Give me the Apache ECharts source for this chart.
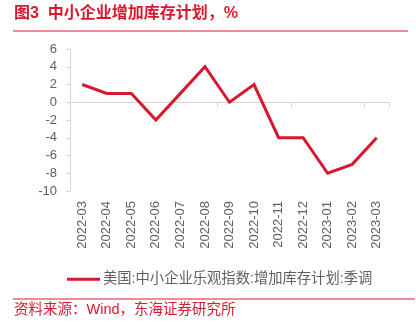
<!DOCTYPE html>
<html>
<head>
<meta charset="utf-8">
<script src="https://cdn.jsdelivr.net/npm/echarts@6/dist/echarts.min.js"></script>
<style>
  html, body { margin: 0; padding: 0; background: #fff; }
  #chart { width: 416px; height: 327px; }
</style>
</head>
<body>
<div id="chart"></div>
<script>
// Quarterly months and the inventory-plan reading (%)
const months = ['2022-03', '2022-04', '2022-05', '2022-06', '2022-07', '2022-08', '2022-09',
                '2022-10', '2022-11', '2022-12', '2023-01', '2023-02', '2023-03'];
const inventoryPlan = [2, 1, 1, -2, 1, 4, 0, 2, -4, -4, -8, -7, -4];
const seriesName = '美国:中小企业乐观指数:增加库存计划:季调';
const titleText = '图3  中小企业增加库存计划，%';
const sourceText = '资料来源：Wind，东海证券研究所';

const red = '#d7192f';
const axisGray = '#d4d4d4';
const textGray = '#606060';
const font = '"Liberation Sans", "Noto Sans CJK SC", sans-serif';

const chart = echarts.init(document.getElementById('chart'), null, { renderer: 'canvas' });
chart.setOption({
  animation: false,
  textStyle: { fontFamily: font },
  grid: { left: 70, right: 27, top: 49, bottom: 136 },
  legend: {
    data: [{ name: seriesName, icon: 'rect' }],
    left: 62, top: 267,
    itemWidth: 33, itemHeight: 3, itemGap: 0,
    textStyle: { color: textGray, fontSize: 14.3, fontFamily: font, padding: [0, 0, 0, -2] }
  },
  xAxis: [
    {
      // zero line with boundary ticks
      type: 'category', data: months, boundaryGap: true,
      axisLine: { onZero: true, lineStyle: { color: axisGray, width: 1 } },
      axisTick: { show: true, length: 5, lineStyle: { color: axisGray } },
      axisLabel: { show: false },
      splitLine: { show: false }
    },
    {
      // month labels along the bottom edge
      type: 'category', data: months, position: 'bottom', boundaryGap: true,
      axisLine: { show: false, onZero: false },
      axisTick: { show: false },
      axisLabel: { rotate: 90, margin: 10, color: textGray, fontSize: 13, fontFamily: font },
      splitLine: { show: false }
    }
  ],
  yAxis: {
    type: 'value', min: -10, max: 6, interval: 2,
    axisLine: { show: true, lineStyle: { color: axisGray } },
    axisTick: { show: true, length: 4, lineStyle: { color: axisGray } },
    axisLabel: { color: textGray, fontSize: 13, margin: 13, fontFamily: font },
    splitLine: { show: false }
  },
  series: [{
    name: seriesName,
    type: 'line',
    data: inventoryPlan,
    xAxisIndex: 0,
    symbol: 'none',
    lineStyle: { color: red, width: 3, join: 'miter' },
    itemStyle: { color: red }
  }],
  graphic: [
    {
      type: 'text', left: 14, top: 6,
      style: { text: titleText, fill: red, font: 'bold 16px ' + font }
    },
    {
      type: 'line', shape: { x1: 13, y1: 31, x2: 408, y2: 31 },
      style: { stroke: red, lineWidth: 1 }
    },
    {
      type: 'line', shape: { x1: 13, y1: 299, x2: 415, y2: 299 },
      style: { stroke: red, lineWidth: 1 }
    },
    {
      type: 'text', left: 14, top: 303,
      style: { text: sourceText, fill: red, font: '14.5px ' + font }
    }
  ]
});
</script>
</body>
</html>
